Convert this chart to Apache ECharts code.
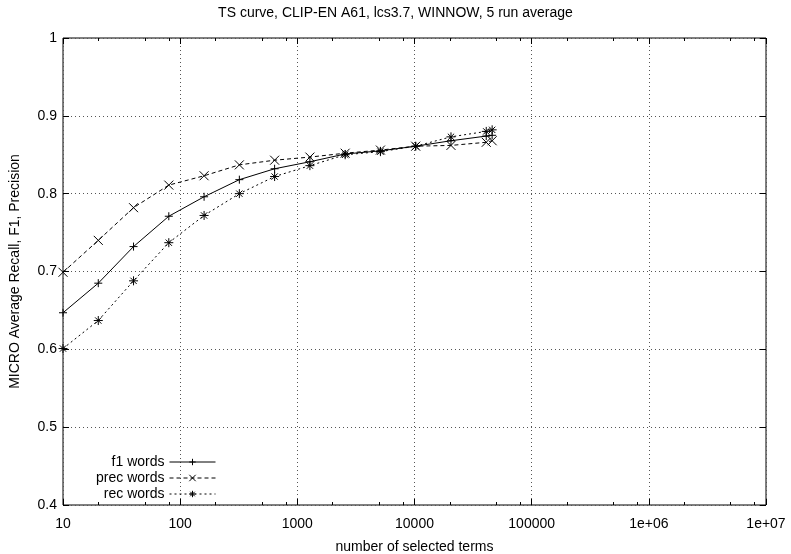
<!DOCTYPE html>
<html>
<head>
<meta charset="utf-8">
<title>TS curve</title>
<script src="https://cdn.jsdelivr.net/npm/echarts@6/dist/echarts.min.js"></script>
<style>
  html, body { margin: 0; padding: 0; background: #fff; }
  #chart { width: 791px; height: 554px; }
</style>
</head>
<body>
<div id="chart"></div>
<script>
// number of selected terms
const terms = [10, 20, 40, 80, 160, 320, 640, 1280, 2560, 5120, 10240, 20480, 40960, 46000];

const f1Words = [0.647, 0.685, 0.732, 0.771, 0.796, 0.818, 0.832, 0.841, 0.851, 0.855, 0.861, 0.868, 0.874, 0.875];
const precWords = [0.699, 0.740, 0.782, 0.811, 0.823, 0.837, 0.843, 0.847, 0.852, 0.856, 0.861, 0.862, 0.866, 0.868];
const recWords = [0.601, 0.637, 0.688, 0.737, 0.772, 0.800, 0.822, 0.836, 0.850, 0.854, 0.861, 0.873, 0.880, 0.882];

const xMajorTicks = [10, 100, 1000, 10000, 100000, 1000000, 10000000];
const xTickLabels = ["10", "100", "1000", "10000", "100000", "1e+06", "1e+07"];
const xMinorTicks = [
  20, 50, 80, 200, 500, 800, 2000, 5000, 8000,
  20000, 50000, 80000, 200000, 500000, 800000,
  2000000, 5000000, 8000000
];
const yTicks = [0.4, 0.5, 0.6, 0.7, 0.8, 0.9, 1];

const FONT = "Liberation Sans, Arial, sans-serif";

const plusSym = "path://M0,5L10,5M5,0L5,10";
const crossSym = "path://M1,1L9,9M1,9L9,1";
const starSym = "path://M0,5L10,5M5,0L5,10M1.5,1.5L8.5,8.5M1.5,8.5L8.5,1.5";

const DASHED = [4, 3];
const DOTTED = [2, 3];

const chart = echarts.init(document.getElementById("chart"));

const pairs = (ys) => terms.map((t, i) => [t, ys[i]]);

const baseX = {
  type: "log",
  logBase: 10,
  min: 10,
  max: 10000000,
  gridIndex: 0,
  axisLine: { show: false, onZero: false },
  axisLabel: { show: false },
  splitLine: { show: false },
};

const legendAt = (name, dash, top) => ({
  data: [{
    name,
    itemStyle: { color: "#000", borderColor: "#000", borderWidth: 1 },
    lineStyle: { color: "#000", width: 1, type: dash },
  }],
  orient: "vertical",
  right: 570,
  top,
  align: "right",
  itemWidth: 46,
  itemHeight: 8,
  selectedMode: false,
  textStyle: { fontFamily: FONT, fontSize: 14, color: "#000" },
});

chart.setOption({
  animation: false,
  backgroundColor: "#fff",
  title: {
    text: "TS curve, CLIP-EN A61, lcs3.7, WINNOW, 5 run average",
    left: "center",
    top: 1,
    textStyle: { fontFamily: FONT, fontSize: 14, fontWeight: "normal", color: "#000" },
  },
  legend: [
    legendAt("f1 words", "solid", 450),
    legendAt("prec words", DASHED, 466),
    legendAt("rec words", DOTTED, 482),
  ],
  grid: {
    left: 63,
    right: 25,
    top: 38,
    bottom: 49,
    show: true,
    borderColor: "#000",
    borderWidth: 1,
    containLabel: false,
    outerBoundsMode: "none",
  },
  xAxis: [
    {
      ...baseX,
      position: "bottom",
      name: "number of selected terms",
      nameLocation: "middle",
      nameGap: 35,
      nameTextStyle: { fontFamily: FONT, fontSize: 14, color: "#000" },
      axisTick: { show: true, inside: true, length: 6, customValues: xMajorTicks, lineStyle: { color: "#000" } },
      axisLabel: {
        show: true,
        customValues: xMajorTicks,
        margin: 12,
        fontFamily: FONT,
        fontSize: 14,
        color: "#000",
        formatter: (v) => xTickLabels[Math.round(Math.log10(v)) - 1],
      },
      splitLine: { show: true, lineStyle: { color: "#555", type: [1, 3], width: 1 } },
    },
    {
      ...baseX,
      position: "bottom",
      axisTick: { show: true, inside: true, length: 3, customValues: xMinorTicks, lineStyle: { color: "#000" } },
    },
    {
      ...baseX,
      position: "top",
      axisTick: { show: true, inside: true, length: 6, customValues: xMajorTicks, lineStyle: { color: "#000" } },
    },
    {
      ...baseX,
      position: "top",
      axisTick: { show: true, inside: true, length: 3, customValues: xMinorTicks, lineStyle: { color: "#000" } },
    },
  ],
  yAxis: [
    {
      type: "value",
      min: 0.4,
      max: 1,
      interval: 0.1,
      position: "left",
      name: "MICRO Average Recall, F1, Precision",
      nameLocation: "middle",
      nameGap: 41,
      nameTextStyle: { fontFamily: FONT, fontSize: 14, color: "#000" },
      axisLine: { show: false, onZero: false },
      axisTick: { show: true, inside: true, length: 6, lineStyle: { color: "#000" } },
      axisLabel: {
        margin: 6,
        fontFamily: FONT,
        fontSize: 14,
        color: "#000",
        formatter: (v) => String(yTicks.find((t) => Math.abs(t - v) < 1e-6) ?? v),
      },
      splitLine: { show: true, lineStyle: { color: "#555", type: [1, 3], width: 1 } },
    },
    {
      type: "value",
      min: 0.4,
      max: 1,
      interval: 0.1,
      position: "right",
      axisLine: { show: false, onZero: false },
      axisTick: { show: true, inside: true, length: 6, lineStyle: { color: "#000" } },
      axisLabel: { show: false },
      splitLine: { show: false },
    },
  ],
  series: [
    {
      name: "f1 words",
      type: "line",
      data: pairs(f1Words),
      symbol: plusSym,
      symbolSize: 8,
      itemStyle: { color: "#000", borderColor: "#000", borderWidth: 1 },
      lineStyle: { color: "#000", width: 1, type: "solid" },
    },
    {
      name: "prec words",
      type: "line",
      data: pairs(precWords),
      symbol: crossSym,
      symbolSize: 9,
      itemStyle: { color: "#000", borderColor: "#000", borderWidth: 1 },
      lineStyle: { color: "#000", width: 1, type: DASHED },
    },
    {
      name: "rec words",
      type: "line",
      data: pairs(recWords),
      symbol: starSym,
      symbolSize: 9,
      itemStyle: { color: "#000", borderColor: "#000", borderWidth: 1 },
      lineStyle: { color: "#000", width: 1, type: DOTTED },
    },
  ],
});
</script>
</body>
</html>
